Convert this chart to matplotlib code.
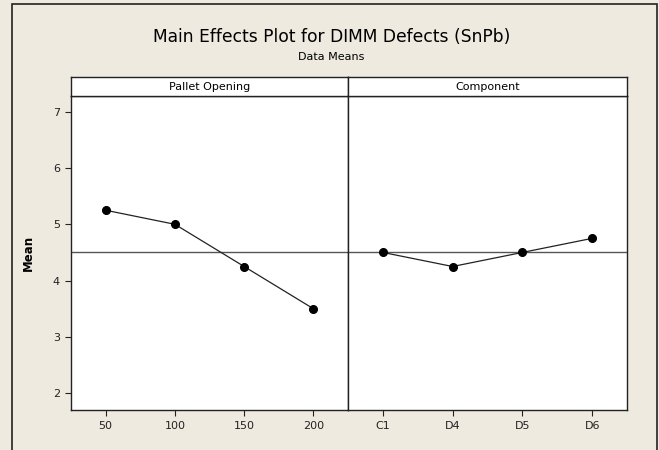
import matplotlib.pyplot as plt
from matplotlib.patches import Rectangle

# data
pallet_labels = ["50", "100", "150", "200"]
pallet_means = [5.25, 5.0, 4.25, 3.5]
comp_labels = ["C1", "D4", "D5", "D6"]
comp_means = [4.5, 4.25, 4.5, 4.75]
grand_mean = 4.5
y_ticks = [2, 3, 4, 5, 6, 7]

bg = "#EEEAE0"
fig = plt.figure(figsize=(6.59, 4.5), dpi=100, facecolor=bg)

# outer frame
fig.patches.append(Rectangle((12 / 659, -0.05), 645 / 659, 1 - 4 / 450 + 0.05,
                             transform=fig.transFigure, fill=False,
                             edgecolor="#222222", lw=1.2))

fig.text(0.503, 1 - 37 / 450, "Main Effects Plot for DIMM Defects (SnPb)",
         ha="center", va="center", fontsize=12.3)
fig.text(0.503, 1 - 57 / 450, "Data Means", ha="center", va="center", fontsize=8)

bottom = 1 - 410 / 450
height = 314 / 450
strip_b = 1 - 96 / 450
strip_h = 19 / 450
panels = [
    (71 / 659, 277 / 659, "Pallet Opening", pallet_labels, pallet_means),
    (348 / 659, 279 / 659, "Component", comp_labels, comp_means),
]

for i, (left, width, name, labels, means) in enumerate(panels):
    ax = fig.add_axes([left, bottom, width, height])
    ax.set_facecolor("white")
    ax.axhline(grand_mean, color="#555555", lw=1.0, zorder=1)
    ax.plot(range(len(means)), means, color="#222222", lw=0.9,
            marker="o", markersize=5.5, markerfacecolor="black",
            markeredgecolor="black", zorder=3)
    ax.set_xlim(-0.5, len(means) - 0.5)
    ax.set_ylim(1.7, 7.28)
    ax.set_xticks(range(len(labels)))
    ax.set_xticklabels(labels, fontsize=8)
    ax.set_yticks(y_ticks)
    for s in ax.spines.values():
        s.set_color("#222222")
        s.set_linewidth(1.0)
    ax.tick_params(direction="out", length=4, width=0.8, colors="#222222",
                   labelsize=8, pad=4)
    if i == 0:
        ax.set_ylabel("Mean", fontsize=8.5, fontweight="bold", labelpad=7)
        ax.yaxis.set_label_coords(-0.13, 0.5)
    else:
        ax.tick_params(axis="y", left=False, labelleft=False)

    sax = fig.add_axes([left, strip_b, width, strip_h])
    sax.set_facecolor("white")
    sax.set_xticks([])
    sax.set_yticks([])
    for s in sax.spines.values():
        s.set_color("#222222")
        s.set_linewidth(1.0)
    sax.text(0.5, 0.45, name, ha="center", va="center", fontsize=8,
             transform=sax.transAxes)

fig.savefig("out.png", dpi=100, facecolor=bg)
